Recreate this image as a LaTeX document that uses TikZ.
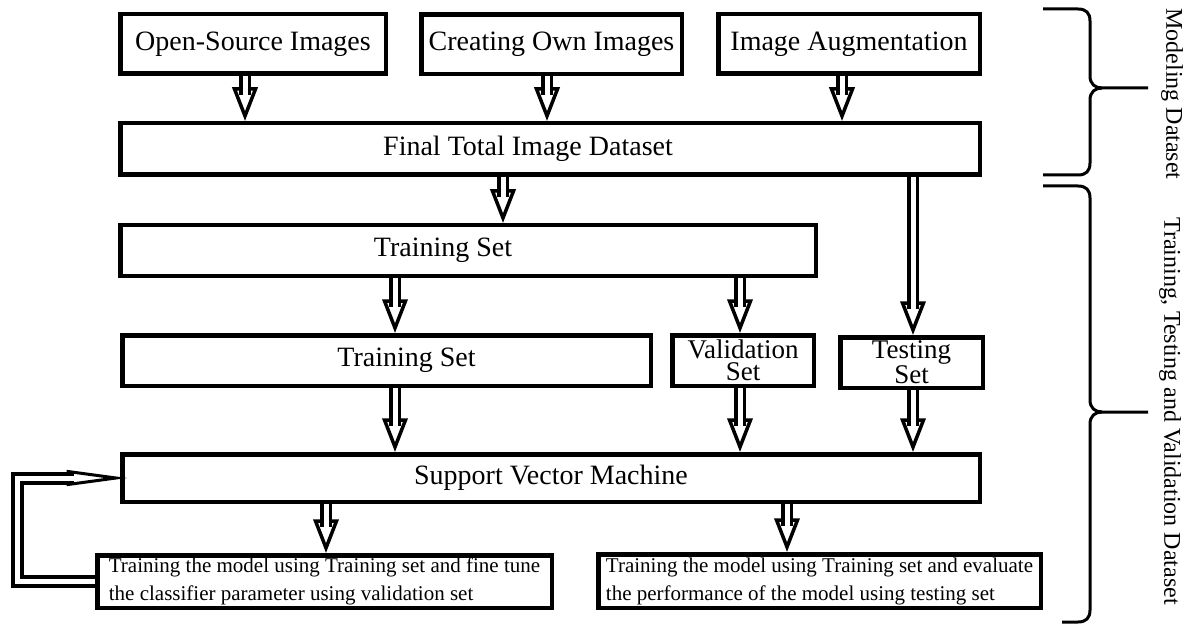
\documentclass[tikz,border=0pt]{standalone}
\usepackage{fontspec}
\setmainfont{Liberation Serif}
\usetikzlibrary{decorations.markings}
\begin{document}
\begin{tikzpicture}[x=1pt,y=-1pt,
  box/.style={draw, line width=4.5pt, inner sep=0pt, font=\fontsize{28}{20}\selectfont, align=center},
  twoline/.style={box, font=\fontsize{27}{22}\selectfont},
  smallbox/.style={draw, line width=4.5pt, inner sep=0pt, font=\fontsize{21}{28}\selectfont, align=left},
  harrow/.style={
    postaction={decorate, decoration={markings, mark=at position 1 with {\draw[line width=3.5pt, fill=white, miter limit=10] (-32pt,10.5pt) -- (-5pt,0pt) -- (-32pt,-10.5pt) -- cycle;}}},
    postaction={draw, line width=3.5pt, double=white, double distance=5pt, shorten >=26pt}},
  larrow/.style={
    postaction={decorate, decoration={markings, mark=at position 1 with {\draw[line width=3pt, fill=white, miter limit=20] (-52pt,6.5pt) -- (-4pt,0pt) -- (-52pt,-6.5pt) -- cycle;}}},
    postaction={draw, line width=4pt, double=white, double distance=5pt, shorten >=46pt}},
  bracestyle/.style={draw, line width=3pt},
  sidetext/.style={rotate=-90, font=\fontsize{24}{24}\selectfont, inner sep=0pt}
]
\useasboundingbox (0,0) rectangle (1190,628);
\fill[white] (0,0) rectangle (1190,628);

% boxes
\node[box, minimum width=265.5pt, minimum height=59.5pt] (os) at (253,44) {Open-Source Images};
\node[box, minimum width=260.5pt, minimum height=59.5pt] (co) at (551.5,44.5) {Creating Own Images};
\node[box, minimum width=261.5pt, minimum height=59.5pt] (ia) at (849,44) {Image Augmentation};
\node[box, minimum width=859.5pt, minimum height=51.5pt] (ft) at (550,149) {Final Total Image Dataset\hspace*{44pt}};
\node[box, minimum width=695.5pt, minimum height=50.5pt] (tr1) at (468,250.5) {Training Set\hspace*{50pt}};
\node[box, minimum width=528.5pt, minimum height=50.5pt] (tr2) at (386.5,360.5) {\hspace*{40pt}Training Set};
\node[twoline, minimum width=141.5pt, minimum height=50.5pt] (va) at (743,360.5) {Validation\\Set};
\node[twoline, minimum width=142.5pt, minimum height=50.5pt] (te) at (911.5,362.5) {Testing\\Set};
\node[box, minimum width=857.5pt, minimum height=47.5pt] (svm) at (551,478) {Support Vector Machine};
\node[smallbox, minimum width=454.5pt, minimum height=52.5pt] (bl) at (324.5,581.5) {Training the model using Training set and fine tune\\the classifier parameter using validation set};
\node[smallbox, minimum width=442.5pt, minimum height=53.5pt] (br) at (819.5,581) {Training the model using Training set and evaluate\\the performance of the model using testing set};

% arrow columns
\coordinate (xa) at (245,0);
\coordinate (xb) at (547,0);
\coordinate (xc) at (842,0);
\coordinate (xd) at (503,0);
\coordinate (xe) at (913,0);
\coordinate (xf) at (395,0);
\coordinate (xg) at (740,0);
\coordinate (xh) at (326,0);
\coordinate (xi) at (787,0);
\coordinate (xl) at (17,0);

\path[harrow] (os.south -| xa) -- (ft.north -| xa);
\path[harrow] (co.south -| xb) -- (ft.north -| xb);
\path[harrow] (ia.south -| xc) -- (ft.north -| xc);
\path[harrow] (ft.south -| xd) -- (tr1.north -| xd);
\path[harrow] (ft.south -| xe) -- (te.north -| xe);
\path[harrow] (tr1.south -| xf) -- (tr2.north -| xf);
\path[harrow] (tr1.south -| xg) -- (va.north -| xg);
\path[harrow] (tr2.south -| xf) -- (svm.north -| xf);
\path[harrow] (va.south -| xg) -- (svm.north -| xg);
\path[harrow] (te.south -| xe) -- (svm.north -| xe);
\path[harrow] (svm.south -| xh) -- (bl.north -| xh);
\path[harrow] (svm.south -| xi) -- (br.north -| xi);

% feedback loop
\path[larrow] (bl.west) -- (bl.west -| xl) -- (svm.west -| xl) -- (svm.west);

% braces
\draw[bracestyle] (1043,9) -- (1078,9) .. controls (1086,9) and (1090,13) .. (1090,21) -- (1090,76) .. controls (1090,84) and (1095,88) .. (1102,88) -- (1148,88);
\draw[bracestyle] (1102,88) .. controls (1095,88) and (1090,92) .. (1090,100) -- (1090,163) .. controls (1090,171) and (1086,175) .. (1078,175) -- (1043,175);
\draw[bracestyle] (1043,186) -- (1078,186) .. controls (1086,186) and (1090,190) .. (1090,198) -- (1090,400) .. controls (1090,408) and (1095,412) .. (1102,412) -- (1148,412);
\draw[bracestyle] (1102,412) .. controls (1095,412) and (1090,416) .. (1090,424) -- (1090,610) .. controls (1090,618) and (1086,622) .. (1078,622) -- (1062,622);

\node[sidetext] (md) at (1172,94) {Modeling Dataset};
\node[sidetext] (ttv) at (1170,411) {Training, Testing and Validation Dataset};
\end{tikzpicture}
\end{document}
